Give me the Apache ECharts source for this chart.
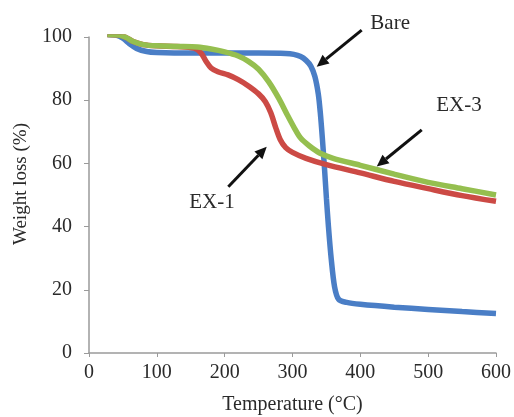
<!DOCTYPE html>
<html>
<head>
<meta charset="utf-8">
<script src="https://cdn.jsdelivr.net/npm/echarts@6/dist/echarts.min.js"></script>
<style>
  html, body { margin: 0; padding: 0; background: #fff; }
  #chart { width: 514px; height: 417px; }
</style>
</head>
<body>
<div id="chart"></div>
<script>
// TGA curves, [temperature (°C), weight (%)]
const bare = [
  [27, 100.8], [40, 100.6], [50, 99.6], [60, 97.8], [70, 96.4], [85, 95.4], [100, 95.1],
  [150, 94.9], [200, 94.9], [250, 94.9], [290, 94.8], [302, 94.5], [312, 93.8],
  [320, 92.6], [327, 90.8], [333, 87.5], [338, 82], [341, 76], [344, 68],
  [347, 59], [350, 49], [353, 40], [357, 30], [362, 21], [368, 17], [380, 16],
  [400, 15.4], [450, 14.5], [500, 13.8], [550, 13.1], [600, 12.5]
];
const ex1 = [
  [27, 100.8], [45, 100.6], [55, 99.8], [65, 98.6], [80, 97.6], [100, 97.2], [130, 97],
  [155, 96.5], [165, 95], [172, 92.5], [180, 90.2], [190, 89], [205, 88], [220, 86.5],
  [235, 84.5], [250, 82], [260, 79.5], [268, 76], [275, 71.5], [282, 67.5], [290, 65],
  [300, 63.5], [320, 61.6], [350, 59.6], [400, 57], [450, 54.3], [500, 52], [550, 49.8],
  [600, 48]
];
const ex3 = [
  [27, 100.8], [45, 100.6], [55, 99.8], [65, 98.6], [80, 97.6], [100, 97.2], [130, 97],
  [160, 96.8], [180, 96.2], [200, 95.3], [220, 94], [235, 92.3], [250, 89.8], [265, 85.8],
  [280, 80.5], [292, 75.5], [302, 71.5], [312, 68], [325, 65.5], [340, 63.3], [360, 61.6],
  [400, 59.4], [450, 56.6], [500, 54], [550, 52], [600, 50]
];
const xTicks = [0, 100, 200, 300, 400, 500, 600];
const yTicks = [0, 20, 40, 60, 80, 100];

// labels with arrows, in data units: text centre, arrow tail, arrow tip
const notes = [
  { text: 'Bare', at: [444, 104.3], from: [402, 102.2], to: [335.7, 90.6] },
  { text: 'EX-3', at: [545.5, 78.2], from: [490.5, 70.6], to: [424.1, 59.0] },
  { text: 'EX-1', at: [181.3, 47.5], from: [205.4, 52.6], to: [262.0, 65.3] }
];

const font = '"Liberation Serif", "Times New Roman", serif';
const axisGray = '#9a9a9a';
const textColor = '#2a2a2a';

const chart = echarts.init(document.getElementById('chart'));

function curve(name, data, color) {
  return {
    name: name,
    type: 'line',
    data: data,
    smooth: 0.3,
    symbol: 'none',
    lineStyle: { color: color, width: 5.5 },
    itemStyle: { color: color }
  };
}

chart.setOption({
  animation: false,
  backgroundColor: '#fff',
  grid: { left: 89, right: 18, top: 37, bottom: 64, outerBoundsMode: 'none', containLabel: false },
  xAxis: {
    type: 'value',
    min: xTicks[0],
    max: xTicks[xTicks.length - 1],
    interval: 100,
    name: 'Temperature (°C)',
    nameLocation: 'middle',
    nameGap: 42,
    nameTextStyle: { fontFamily: font, fontSize: 20, color: textColor },
    axisLine: { lineStyle: { color: axisGray, width: 1.5 } },
    axisTick: { show: true, length: 4, lineStyle: { color: axisGray } },
    axisLabel: { fontFamily: font, fontSize: 20, color: textColor, margin: 10 },
    splitLine: { show: false }
  },
  yAxis: {
    type: 'value',
    min: yTicks[0],
    max: yTicks[yTicks.length - 1],
    interval: 20,
    axisLine: { show: true, lineStyle: { color: axisGray, width: 1.5 } },
    axisTick: { show: true, length: 5, lineStyle: { color: axisGray } },
    axisLabel: { fontFamily: font, fontSize: 20, color: textColor, margin: 17 },
    splitLine: { show: false }
  },
  series: [
    curve('Bare', bare, '#4a7ec6'),
    curve('EX-1', ex1, '#cc4a45'),
    curve('EX-3', ex3, '#95bf4f')
  ]
});

// arrows and labels placed through the axes
const elements = [{
  type: 'text',
  x: 21,
  y: 184,
  rotation: Math.PI / 2,
  style: {
    text: 'Weight loss (%)',
    font: '19px ' + font,
    fill: textColor,
    align: 'center',
    verticalAlign: 'middle'
  }
}];
notes.forEach(function (n) {
  const a = chart.convertToPixel({ gridIndex: 0 }, n.from);
  const b = chart.convertToPixel({ gridIndex: 0 }, n.to);
  const c = chart.convertToPixel({ gridIndex: 0 }, n.at);
  const ang = Math.atan2(b[1] - a[1], b[0] - a[0]);
  const hl = 12, hw = 5.5;
  const base = [b[0] - hl * Math.cos(ang), b[1] - hl * Math.sin(ang)];
  elements.push({
    type: 'line',
    shape: { x1: a[0], y1: a[1], x2: base[0], y2: base[1] },
    style: { stroke: '#111', lineWidth: 3 }
  });
  elements.push({
    type: 'polygon',
    shape: {
      points: [
        b,
        [base[0] + hw * Math.sin(ang), base[1] - hw * Math.cos(ang)],
        [base[0] - hw * Math.sin(ang), base[1] + hw * Math.cos(ang)]
      ]
    },
    style: { fill: '#111' }
  });
  elements.push({
    type: 'text',
    x: c[0],
    y: c[1],
    style: {
      text: n.text,
      font: '21px ' + font,
      fill: textColor,
      align: 'center',
      verticalAlign: 'middle'
    }
  });
});
chart.setOption({ graphic: elements });
</script>
</body>
</html>
